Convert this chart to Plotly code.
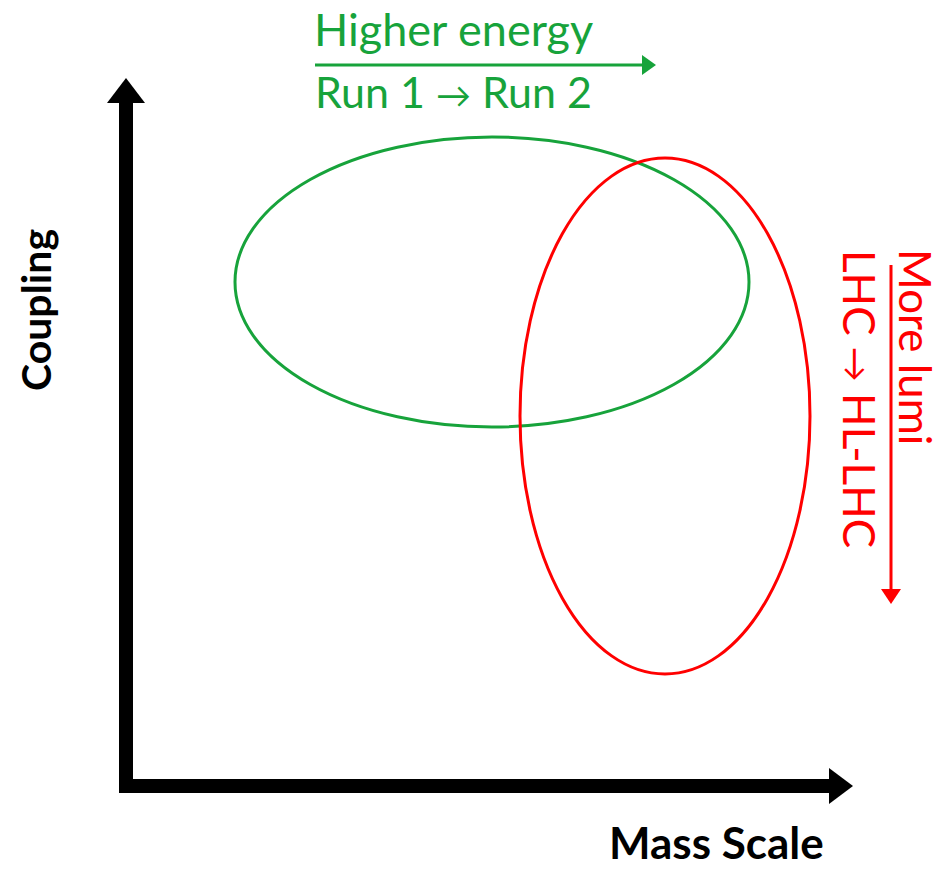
import plotly.graph_objects as go

_GREEN = '#17A33B'
_RED = '#FF0000'
_BLACK = '#000000'
_FONT = 'Lato'

W, H = 943, 869

# ellipses: centre x, centre y, half width, half height (page pixels)
ellipse_names = ['Higher energy', 'More lumi']
ellipse_cx = [492, 665]
ellipse_cy = [282, 416]
ellipse_rx = [257, 145]
ellipse_ry = [145, 258]
ellipse_colors = [_GREEN, _RED]

# axes arrows
axis_origin = (126, 786)
axis_x_end = 853
axis_y_end = 78

_ARR = '<span style="font-size:35px">\u2192</span>'
green_labels = ['Higher energy', f'Run 1 {_ARR} Run 2']
red_labels = ['More lumi', f'LHC {_ARR} HL-LHC']

fig = go.Figure()

shapes = []
for cx, cy, rx, ry, col in zip(ellipse_cx, ellipse_cy, ellipse_rx, ellipse_ry, ellipse_colors):
    shapes.append(dict(type='circle', x0=cx - rx, x1=cx + rx, y0=cy - ry, y1=cy + ry,
                       line=dict(color=col, width=3)))

ox, oy = axis_origin
# thick black axes
shapes.append(dict(type='line', x0=ox, x1=ox, y0=oy + 7, y1=axis_y_end + 22,
                   line=dict(color=_BLACK, width=14)))
shapes.append(dict(type='line', x0=ox - 7, x1=axis_x_end - 22, y0=oy, y1=oy,
                   line=dict(color=_BLACK, width=14)))
shapes.append(dict(type='path', path=f'M {ox-19},{axis_y_end+25} L {ox},{axis_y_end} L {ox+19},{axis_y_end+25} Z',
                   fillcolor=_BLACK, line=dict(width=0)))
shapes.append(dict(type='path', path=f'M {axis_x_end-24},{oy-18} L {axis_x_end},{oy} L {axis_x_end-24},{oy+18} Z',
                   fillcolor=_BLACK, line=dict(width=0)))

# green arrow (higher energy)
shapes.append(dict(type='line', x0=315, x1=645, y0=65, y1=65, line=dict(color=_GREEN, width=3)))
shapes.append(dict(type='path', path='M 642,55 L 656,65 L 642,75 Z', fillcolor=_GREEN, line=dict(width=0)))

# red arrow (more lumi)
shapes.append(dict(type='line', x0=891, x1=891, y0=265, y1=592, line=dict(color=_RED, width=3)))
shapes.append(dict(type='path', path='M 881,589 L 891,604 L 901,589 Z', fillcolor=_RED, line=dict(width=0)))

annotations = [
    dict(x=312, y=29, text=green_labels[0], xanchor='left', yanchor='middle', showarrow=False,
         font=dict(family=_FONT, size=45, color=_GREEN)),
    dict(x=313, y=91, text=green_labels[1], xanchor='left', yanchor='middle', showarrow=False,
         font=dict(family=_FONT, size=43, color=_GREEN)),
    dict(x=W, y=248, text=red_labels[0], xanchor='right', yanchor='top', showarrow=False, textangle=90,
         borderpad=0, font=dict(family=_FONT, size=44, color=_RED)),
    dict(x=860, y=248, text=red_labels[1], xanchor='center', yanchor='top', showarrow=False, textangle=90,
         font=dict(family=_FONT, size=44, color=_RED)),
    dict(x=35, y=310, text='<b>Coupling</b>', xanchor='center', yanchor='middle', showarrow=False, textangle=-90,
         font=dict(family=_FONT, size=41, color=_BLACK)),
    dict(x=716, y=H, text='<b>Mass Scale</b>', xanchor='center', yanchor='bottom', showarrow=False,
         borderpad=0, font=dict(family=_FONT, size=44, color=_BLACK)),
]

fig.update_layout(
    width=W, height=H,
    autosize=False,
    paper_bgcolor='#FFFFFF',
    plot_bgcolor='#FFFFFF',
    margin=dict(l=0, r=0, t=0, b=0),
    shapes=shapes,
    annotations=annotations,
    showlegend=False,
)
fig.update_xaxes(range=[0, W], visible=False, fixedrange=True)
fig.update_yaxes(range=[H, 0], visible=False, fixedrange=True)

fig.write_html('out.html', config={'displayModeBar': False},
               post_script="document.body.style.margin='0';document.body.style.overflow='hidden';")
